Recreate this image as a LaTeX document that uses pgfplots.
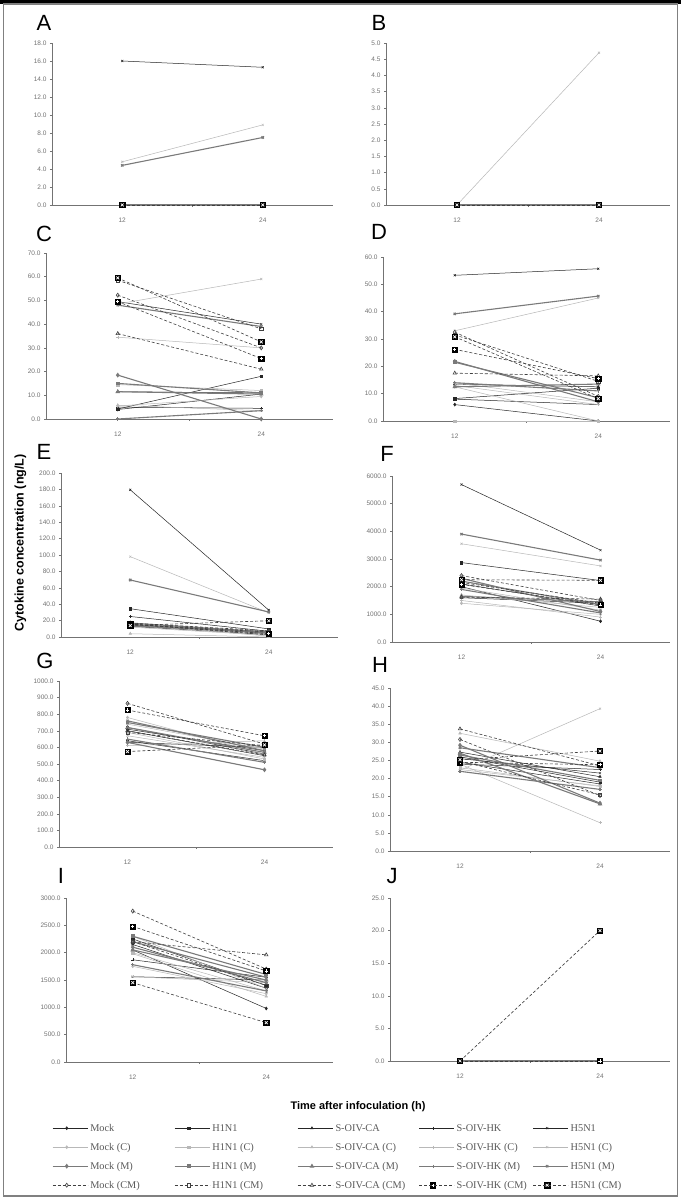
\documentclass[border=0pt]{standalone}
\usepackage{fontspec}
\setmainfont{Liberation Sans}
\newfontfamily\serif{Liberation Serif}
\usepackage{pgfplots}
\usepackage{pgfplotstable}
\pgfplotsset{compat=1.18}

\pgfdeclareplotmark{sqplus}{%
 \pgfscope
 \pgfsetdash{}{0pt}\pgfsetfillcolor{black}\pgfsetstrokecolor{black}\pgfsetlinewidth{0.4pt}%
 \pgfpathrectangle{\pgfpoint{-\pgfplotmarksize}{-\pgfplotmarksize}}{\pgfpoint{2\pgfplotmarksize}{2\pgfplotmarksize}}%
 \pgfusepath{fill,stroke}%
 \pgfsetstrokecolor{white}\pgfsetlinewidth{0.7pt}%
 \pgfpathmoveto{\pgfpoint{-0.6\pgfplotmarksize}{0pt}}\pgfpathlineto{\pgfpoint{0.6\pgfplotmarksize}{0pt}}%
 \pgfpathmoveto{\pgfpoint{0pt}{-0.6\pgfplotmarksize}}\pgfpathlineto{\pgfpoint{0pt}{0.6\pgfplotmarksize}}%
 \pgfusepath{stroke}%
 \endpgfscope}
\pgfdeclareplotmark{sqx}{%
 \pgfscope
 \pgfsetdash{}{0pt}\pgfsetfillcolor{black}\pgfsetstrokecolor{black}\pgfsetlinewidth{0.4pt}%
 \pgfpathrectangle{\pgfpoint{-\pgfplotmarksize}{-\pgfplotmarksize}}{\pgfpoint{2\pgfplotmarksize}{2\pgfplotmarksize}}%
 \pgfusepath{fill,stroke}%
 \pgfsetstrokecolor{white}\pgfsetlinewidth{0.7pt}%
 \pgfpathmoveto{\pgfpoint{-0.55\pgfplotmarksize}{-0.55\pgfplotmarksize}}\pgfpathlineto{\pgfpoint{0.55\pgfplotmarksize}{0.55\pgfplotmarksize}}%
 \pgfpathmoveto{\pgfpoint{-0.55\pgfplotmarksize}{0.55\pgfplotmarksize}}\pgfpathlineto{\pgfpoint{0.55\pgfplotmarksize}{-0.55\pgfplotmarksize}}%
 \pgfusepath{stroke}%
 \endpgfscope}

% columns: plain, (C), (M), (CM)
\pgfplotstableread{
x mock h1 ca hk h5 mockC h1C caC hkC h5C mockM h1M caM hkM h5M mockCM h1CM caCM hkCM h5CM
12 0 0 0 0 16.0 0 0 0 0 4.8 0 0 0 0 4.4 0 0 0 0 0
24 0 0 0 0 15.3 0 0 0 0 8.9 0 0 0 0 7.5 0 0 0 0 0
}\tA
\pgfplotstableread{
x mock h1 ca hk h5 mockC h1C caC hkC h5C mockM h1M caM hkM h5M mockCM h1CM caCM hkCM h5CM
12 0 0 0 0 0 0 0 0 0 0.0 0 0 0 0 0 0 0 0 0 0
24 0 0 0 0 0 0 0 0 0 4.7 0 0 0 0 0 0 0 0 0 0
}\tB
\pgfplotstableread{
x mock h1 ca hk h5 mockC h1C caC hkC h5C mockM h1M caM hkM h5M mockCM h1CM caCM hkCM h5CM
12 4.0 4.2 11.5 5.0 49.5 5.5 14.5 5.8 34.5 48.5 18.5 15.0 11.5 0.0 48.0 52.2 58.5 36.0 49.5 59.5
24 10.5 18.0 11.0 4.5 40.0 9.5 12.0 3.5 30.0 59.0 0.0 11.0 10.5 3.5 39.0 30.0 38.0 21.0 25.5 32.5
}\tC
\pgfplotstableread{
x mock h1 ca hk h5 mockC h1C caC hkC h5C mockM h1M caM hkM h5M mockCM h1CM caCM hkCM h5CM
12 6.0 8.2 13.5 8.0 53.3 12.5 0.0 14.0 13.0 33.0 21.8 21.5 12.5 14.0 39.2 32.5 31.5 17.5 26.2 30.8
24 0.0 12.0 12.5 6.0 55.7 0.0 0.0 7.0 6.0 45.0 7.0 8.5 13.5 11.0 45.7 9.0 14.5 16.5 15.5 8.2
}\tD
\pgfplotstableread{
x mock h1 ca hk h5 mockC h1C caC hkC h5C mockM h1M caM hkM h5M mockCM h1CM caCM hkCM h5CM
12 13.0 34.5 15.0 25.0 179.5 12.0 14.0 4.0 16.0 98.0 17.0 15.5 14.5 13.5 69.5 17.0 16.0 15.5 15.5 14.0
24 3.0 9.8 5.0 7.0 32.8 2.0 3.5 0.0 1.0 29.5 6.0 4.5 6.5 5.5 30.5 7.5 2.5 6.0 4.0 19.8
}\tE
\pgfplotstableread{
x mock h1 ca hk h5 mockC h1C caC hkC h5C mockM h1M caM hkM h5M mockCM h1CM caCM hkCM h5CM
12 2000 2870 1600 2100 5690 1400 1950 1700 1500 3550 2300 2200 1650 1900 3900 2400 2150 1620 2080 2250
24 750 2220 1400 1300 3320 1000 1150 1250 900 2750 1100 1350 1450 1050 2960 1500 1400 1550 1340 2230
}\tF
\pgfplotstableread{
x mock h1 ca hk h5 mockC h1C caC hkC h5C mockM h1M caM hkM h5M mockCM h1CM caCM hkCM h5CM
12 640 720 710 630 700 780 690 740 610 670 630 750 720 650 760 865 690 700 825 575
24 520 560 580 600 550 560 530 590 640 540 465 600 570 510 580 620 610 555 670 615
}\tG
\pgfplotstableread{
x mock h1 ca hk h5 mockC h1C caC hkC h5C mockM h1M caM hkM h5M mockCM h1CM caCM hkCM h5CM
12 24.5 26.0 27.3 24.0 25.5 22.5 23.0 32.5 24.0 22.3 29.2 26.5 27.0 22.0 28.5 30.8 24.8 33.7 24.5 25.2
24 18.5 19.0 20.5 22.5 21.5 18.0 17.8 24.8 7.8 39.3 13.2 19.5 13.0 17.0 23.0 15.3 15.5 23.5 23.8 27.6
}\tH
\pgfplotstableread{
x mock h1 ca hk h5 mockC h1C caC hkC h5C mockM h1M caM hkM h5M mockCM h1CM caCM hkCM h5CM
12 2050 2250 2150 1870 1560 1750 2000 1980 1560 2300 2100 2300 2050 1780 2200 2760 2200 2200 2480 1450
24 980 1400 1350 1550 1500 1250 1300 1200 1450 1350 1450 1600 1500 1300 1550 1700 1400 1960 1665 720
}\tI
\pgfplotstableread{
x mock h1 ca hk h5 mockC h1C caC hkC h5C mockM h1M caM hkM h5M mockCM h1CM caCM hkCM h5CM
12 0 0 0 0 0 0 0 0 0 0 0 0 0 0 0 0 0 0 0 0
24 0 0 0 0 0 0 0 0 0 0 0 0 0 0 0 0 0 0 0 20.0
}\tJ

\pgfplotsset{
 sP/.style={black!85, line width=0.5pt, mark size=1.5pt, mark options={solid}},
 sC/.style={black!28, line width=0.5pt, mark size=1.5pt, mark options={solid}},
 sM/.style={black!52, line width=1.1pt, mark size=1.6pt, mark options={solid}},
 sCM/.style={black!75, line width=0.6pt, dash pattern=on 3pt off 2pt, mark size=2pt, mark options={solid, fill=white}},
 panel/.style={
  scale only axis, anchor=south west, clip=false,
  xmin=6, xmax=30, ymin=0,
  axis lines=left, axis line style={-, black!55, line width=0.6pt},
  xtick={18}, xticklabels={},
  extra x ticks={12,24}, extra x tick labels={12,24},
  extra x tick style={major tick length=0pt},
  tick align=outside, major tick length=2pt, tick style={black!55, line width=0.5pt},
  tick label style={font=\fontsize{6.5}{7}\selectfont, text=black!55},
  xticklabel style={yshift=-9pt},
  /pgf/number format/assume math mode=true,
  yticklabel style={/pgf/number format/.cd, fixed, fixed zerofill, precision=1, 1000 sep={}},
  scaled y ticks=false,
 },
}

\newcommand{\allseries}[1]{%
 \addplot[sP, mark=diamond*] table[x=x,y=mock]{#1};
 \addplot[sP, mark=square*, mark size=1.2pt] table[x=x,y=h1]{#1};
 \addplot[sP, mark=triangle*] table[x=x,y=ca]{#1};
 \addplot[sP, mark=+] table[x=x,y=hk]{#1};
 \addplot[sP, mark=x] table[x=x,y=h5]{#1};
 \addplot[sC, mark=diamond*] table[x=x,y=mockC]{#1};
 \addplot[sC, mark=square*, mark size=1.2pt] table[x=x,y=h1C]{#1};
 \addplot[sC, mark=triangle*] table[x=x,y=caC]{#1};
 \addplot[sC, mark=+] table[x=x,y=hkC]{#1};
 \addplot[sC, mark=x] table[x=x,y=h5C]{#1};
 \addplot[sM, mark=diamond*] table[x=x,y=mockM]{#1};
 \addplot[sM, mark=square*, mark size=1.3pt] table[x=x,y=h1M]{#1};
 \addplot[sM, mark=triangle*] table[x=x,y=caM]{#1};
 \addplot[sM, mark=+] table[x=x,y=hkM]{#1};
 \addplot[sM, mark=x] table[x=x,y=h5M]{#1};
 \addplot[sCM, mark=diamond] table[x=x,y=mockCM]{#1};
 \addplot[sCM, mark=square, mark size=1.6pt] table[x=x,y=h1CM]{#1};
 \addplot[sCM, mark=triangle] table[x=x,y=caCM]{#1};
 \addplot[sCM, mark=sqplus, mark size=2.6pt] table[x=x,y=hkCM]{#1};
 \addplot[sCM, mark=sqx, mark size=2.6pt] table[x=x,y=h5CM]{#1};
}

\begin{document}
\begin{tikzpicture}
\useasboundingbox (0,0) rectangle (681pt,1199pt);
\fill[white] (0,0) rectangle (681pt,1199pt);
\fill[black] (0,1195pt) rectangle (681pt,1199pt);
\draw[black!50, line width=1.5pt] (3.5pt,3pt) rectangle (677.5pt,1195pt);

\begin{axis}[panel, at={(52pt,994pt)}, width=281pt, height=162pt, ymax=18, ytick distance=2]
\allseries{\tA}
\end{axis}
\begin{axis}[panel, at={(386pt,994pt)}, width=284pt, height=162pt, ymax=5, ytick distance=0.5]
\allseries{\tB}
\end{axis}
\begin{axis}[panel, at={(46pt,780pt)}, width=287pt, height=166pt, ymax=70, ytick distance=10]
\allseries{\tC}
\end{axis}
\begin{axis}[panel, at={(383pt,778pt)}, width=287pt, height=164pt, ymax=60, ytick distance=10]
\allseries{\tD}
\end{axis}
\begin{axis}[panel, at={(61pt,562pt)}, width=277pt, height=164pt, ymax=200, ytick distance=20]
\allseries{\tE}
\end{axis}
\begin{axis}[panel, at={(392pt,557pt)}, width=278pt, height=166pt, ymax=6000, ytick distance=1000]
\allseries{\tF}
\end{axis}
\begin{axis}[panel, at={(59pt,352pt)}, width=274pt, height=166pt, ymax=1000, ytick distance=100]
\allseries{\tG}
\end{axis}
\begin{axis}[panel, at={(390pt,348pt)}, width=280pt, height=163pt, ymax=45, ytick distance=5]
\allseries{\tH}
\end{axis}
\begin{axis}[panel, at={(66pt,137pt)}, width=267pt, height=164pt, ymax=3000, ytick distance=500,
  legend columns=5, legend cell align=left,
  legend style={at={(-0.0524,-0.3598)}, anchor=north west, draw=none, fill=none, inner sep=0pt,
    row sep=5pt, column sep=0pt, font=\serif\fontsize{10.3}{12}\selectfont, text=black!65,
    nodes={inner sep=2pt, text height=8pt, text depth=2pt}},
  legend image code/.code={\draw[mark repeat=2,mark phase=2,#1] plot coordinates {(0pt,0pt) (14pt,0pt) (28pt,0pt)}; \path (0pt,0pt) -- (35pt,0pt);},
  legend entries={{\makebox[82pt][l]{Mock}},{\makebox[83pt][l]{H1N1}},{\makebox[81pt][l]{S-OIV-CA}},{\makebox[74pt][l]{S-OIV-HK}},{\makebox[70pt][l]{H5N1}},
   {\makebox[82pt][l]{Mock (C)}},{\makebox[83pt][l]{H1N1 (C)}},{\makebox[81pt][l]{S-OIV-CA (C)}},{\makebox[74pt][l]{S-OIV-HK (C)}},{\makebox[70pt][l]{H5N1 (C)}},
   {\makebox[82pt][l]{Mock (M)}},{\makebox[83pt][l]{H1N1 (M)}},{\makebox[81pt][l]{S-OIV-CA (M)}},{\makebox[74pt][l]{S-OIV-HK (M)}},{\makebox[70pt][l]{H5N1 (M)}},
   {\makebox[82pt][l]{Mock (CM)}},{\makebox[83pt][l]{H1N1 (CM)}},{\makebox[81pt][l]{S-OIV-CA (CM)}},{\makebox[74pt][l]{S-OIV-HK (CM)}},{\makebox[70pt][l]{H5N1 (CM)}}},
]
\allseries{\tI}
\end{axis}
\begin{axis}[panel, at={(390pt,138pt)}, width=280pt, height=163pt, ymax=25, ytick distance=5]
\allseries{\tJ}
\end{axis}

\begin{scope}[font=\fontsize{22}{22}\selectfont]
\node at (44pt,1176pt) {A};
\node at (379pt,1176pt) {B};
\node at (44pt,965pt) {C};
\node at (379pt,967pt) {D};
\node at (44pt,747pt) {E};
\node at (387pt,745pt) {F};
\node at (45pt,538pt) {G};
\node at (380pt,534pt) {H};
\node at (61pt,323pt) {I};
\node at (392pt,323pt) {J};
\end{scope}
\node[rotate=90, font=\bfseries\fontsize{12.5}{14}\selectfont] at (20.5pt,656pt) {Cytokine concentration (ng/L)};
\node[font=\bfseries\fontsize{11}{13}\selectfont] at (358pt,92pt) {Time after infoculation (h)};
\end{tikzpicture}
\end{document}
